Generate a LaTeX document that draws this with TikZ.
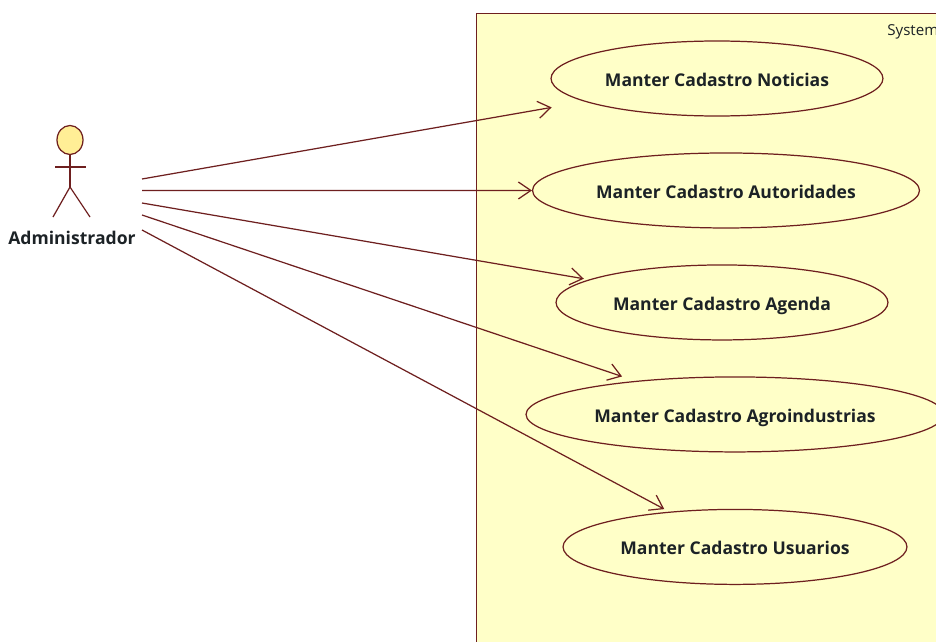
\documentclass[tikz,border=0pt]{standalone}
\usepackage{fontspec}
\setmainfont{Open Sans}
\usetikzlibrary{shapes.geometric,arrows.meta,positioning}

\definecolor{umlline}{HTML}{6E1F1F}
\definecolor{umlfill}{HTML}{FFFFC8}
\definecolor{umlhead}{HTML}{FFEE96}
\definecolor{umltext}{HTML}{1C2226}

\begin{document}
\begin{tikzpicture}[
    x=0.02cm, y=-0.02cm,
    usecase/.style={ellipse, draw=umlline, fill=umlfill, line width=0.7pt, inner sep=0pt, minimum height=1.5cm, text=umltext, text height=9pt, text depth=0pt, font=\fontsize{10pt}{11pt}\selectfont\bfseries},
    node distance=2.24cm,
    limb/.style={draw=umlline, line width=0.7pt},
    arrow/.style={draw=umlline, line width=0.7pt, -{Straight Barb[length=0.25cm, width=0.34cm]}}]

    \clip (0,0) rectangle (936,642);
    \fill [white] (0,0) rectangle (936,642);

    % Node for the system frame
    \node [rectangle, draw=umlline, fill=umlfill, line width=0.7pt, anchor=north west, minimum width=12cm, minimum height=15cm] (system) at (476,13) {};
    \node [anchor=west, inner sep=0pt, text=umltext, font=\fontsize{8.6pt}{9pt}\selectfont] (systemlabel) at (887,32) {System};

    % Nodes for the use cases
    \node [usecase, minimum width=6.64cm] (noticias) at (717,78.5) {Manter Cadastro Noticias};
    \node [usecase, minimum width=7.74cm, below of=noticias, xshift=0.18cm] (autoridades) {Manter Cadastro Autoridades};
    \node [usecase, minimum width=6.64cm, below of=autoridades, xshift=-0.08cm] (agenda) {Manter Cadastro Agenda};
    \node [usecase, minimum width=8.36cm, below of=agenda, xshift=0.26cm] (agroindustrias) {Manter Cadastro Agroindustrias};
    \node [usecase, minimum width=6.88cm, below of=agroindustrias, node distance=2.65cm] (usuarios) {Manter Cadastro Usuarios};

    % Node for the actor
    \node [ellipse, draw=umlline, fill=umlhead, line width=0.7pt, inner sep=0pt, minimum width=0.52cm, minimum height=0.58cm] (adminhead) at (70,140) {};
    \node [inner sep=0pt, text=umltext, font=\fontsize{10pt}{11pt}\selectfont\bfseries] (admin) at (72,238) {Administrador};
    \coordinate (adminhip) at (70,187);
    \coordinate (adminleft) at (55,167);
    \coordinate (adminright) at (86,167);
    \coordinate (adminfootl) at (53,217);
    \coordinate (adminfootr) at (90,217);
    \draw [limb] (adminhead) -- (adminhip);
    \draw [limb] (adminleft) -- (adminright);
    \draw [limb] (adminfootl) -- (adminhip) -- (adminfootr);

    % Free ends of the arrows next to the actor
    \coordinate (from1) at (142,179);
    \coordinate (from2) at (142,190.5);
    \coordinate (from3) at (142,203);
    \coordinate (from4) at (142,215);
    \coordinate (from5) at (142,230);

    % Draw the arrows
    \draw [arrow, shorten >=0.67cm] (from1) -- (noticias);
    \draw [arrow] (from2) -- (autoridades);
    \draw [arrow, shorten >=0.1cm] (from3) -- (agenda);
    \draw [arrow, shorten >=0.28cm] (from4) -- (agroindustrias);
    \draw [arrow, shorten >=0.11cm] (from5) -- (usuarios);
\end{tikzpicture}
\end{document}
